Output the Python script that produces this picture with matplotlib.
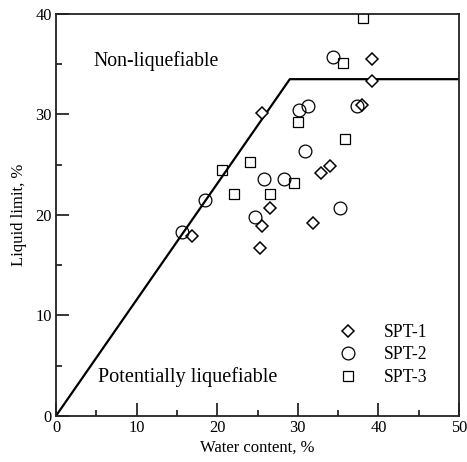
import matplotlib
matplotlib.use('Agg')
import matplotlib.pyplot as plt
from matplotlib.ticker import MultipleLocator

plt.rcParams['font.family'] = ['Liberation Serif', 'DejaVu Serif']

# SPT-1 (diamonds)
spt1_w = [16.9, 25.6, 25.3, 25.5, 26.5, 31.9, 32.9, 34.0, 38.0, 39.2, 39.2]
spt1_ll = [17.9, 30.1, 16.7, 18.9, 20.7, 19.2, 24.2, 24.9, 30.9, 33.3, 35.5]

# SPT-2 (circles)
spt2_w = [15.6, 18.5, 24.7, 25.8, 28.3, 30.9, 35.2, 30.1, 31.3, 34.3, 37.4]
spt2_ll = [18.3, 21.5, 19.8, 23.6, 23.6, 26.4, 20.7, 30.4, 30.8, 35.7, 30.8]

# SPT-3 (squares)
spt3_w = [20.6, 22.1, 24.1, 26.5, 29.5, 30.0, 35.8, 35.6, 38.1]
spt3_ll = [24.5, 22.1, 25.3, 22.1, 23.2, 29.2, 27.5, 35.1, 39.6]

# boundary between liquefiable / non-liquefiable
bound_w = [0, 29, 50]
bound_ll = [0, 33.5, 33.5]

fig = plt.figure(figsize=(4.67, 4.62), dpi=100)
ax = fig.add_axes([0.120, 0.100, 0.863, 0.870])

ax.plot(bound_w, bound_ll, color='black', lw=1.6, zorder=2)

ax.plot(spt1_w, spt1_ll, 'D', ms=6.6, mfc='white', mec='black', mew=1.1, ls='none', label='SPT-1', zorder=3)
ax.plot(spt2_w, spt2_ll, 'o', ms=9.2, mfc='none', mec='black', mew=0.9, ls='none', label='SPT-2', zorder=3)
ax.plot(spt3_w, spt3_ll, 's', ms=7.0, mfc='none', mec='black', mew=0.9, ls='none', label='SPT-3', zorder=3)

ax.text(4.6, 35.3, 'Non-liquefiable', fontsize=14.2, va='center', ha='left')
ax.text(5.2, 3.9, 'Potentially liquefiable', fontsize=14.6, va='center', ha='left')

ax.set_xlim(0, 50)
ax.set_ylim(0, 40)
ax.xaxis.set_major_locator(MultipleLocator(10))
ax.xaxis.set_minor_locator(MultipleLocator(5))
ax.yaxis.set_major_locator(MultipleLocator(10))
ax.yaxis.set_minor_locator(MultipleLocator(5))
ax.tick_params(which='major', direction='in', length=9.5, width=1.1, labelsize=11.8, pad=3)
ax.tick_params(which='minor', direction='in', length=4.5, width=1.1)
for s in ax.spines.values():
    s.set_linewidth(1.3)
    s.set_color('#222222')

ax.set_xlabel('Water content, %', fontsize=12, labelpad=3)
ax.set_ylabel('Liquid limit, %', fontsize=12, labelpad=6)

ax.legend(loc='upper left', bbox_to_anchor=(0.703, 0.228), frameon=False,
          fontsize=12.7, handlelength=1.0, handletextpad=1.5, labelspacing=0.3,
          borderpad=0, borderaxespad=0)

fig.savefig('out.png', dpi=100)
